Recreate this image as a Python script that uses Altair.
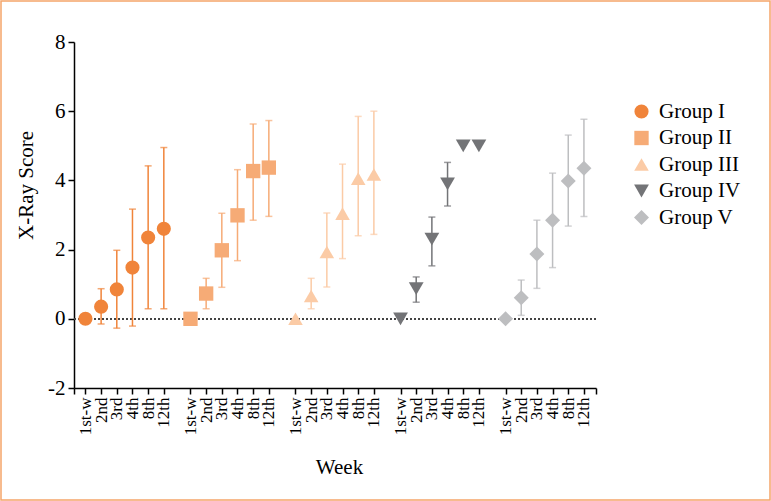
import altair as alt
import pandas as pd

weeks = ["1st-w", "2nd", "3rd", "4th", "8th", "12th"]
groups = ["Group I", "Group II", "Group III", "Group IV", "Group V"]

mean_g1 = [0, 0.35, 0.85, 1.48, 2.35, 2.60]
lo_g1 = [0, -0.15, -0.27, -0.21, 0.29, 0.29]
hi_g1 = [0, 0.87, 1.98, 3.17, 4.42, 4.95]

mean_g2 = [0, 0.73, 1.98, 2.99, 4.27, 4.37]
lo_g2 = [0, 0.29, 0.91, 1.68, 2.85, 2.96]
hi_g2 = [0, 1.17, 3.05, 4.31, 5.63, 5.73]

mean_g3 = [0, 0.66, 1.93, 3.04, 4.05, 4.17]
lo_g3 = [0, 0.29, 0.92, 1.74, 2.40, 2.44]
hi_g3 = [0, 1.17, 3.06, 4.47, 5.85, 6.00]

mean_g4 = [0, 0.87, 2.30, 3.90, 5.0, 5.0]
lo_g4 = [0, 0.48, 1.53, 3.26, 5.0, 5.0]
hi_g4 = [0, 1.21, 2.94, 4.52, 5.0, 5.0]

mean_g5 = [0, 0.61, 1.87, 2.85, 3.98, 4.35]
lo_g5 = [0, 0.10, 0.88, 1.48, 2.68, 2.96]
hi_g5 = [0, 1.12, 2.85, 4.21, 5.31, 5.77]

colors = ["#F0843A", "#F6AB76", "#FBCBA6", "#737477", "#BDBEC0"]
shapes = ["circle", "square", "triangle-up", "triangle-down", "diamond"]
sizes = [200, 225, 215, 215, 160]

means = [mean_g1, mean_g2, mean_g3, mean_g4, mean_g5]
lows = [lo_g1, lo_g2, lo_g3, lo_g4, lo_g5]
highs = [hi_g1, hi_g2, hi_g3, hi_g4, hi_g5]

GROUP_STEP = 6.7
rows = []
for g, name in enumerate(groups):
    for i, w in enumerate(weeks):
        rows.append(dict(group=name, week=w, pos=g * GROUP_STEP + i,
                         mean=means[g][i], lo=lows[g][i], hi=highs[g][i]))
df = pd.DataFrame(rows)

x_min = -0.73
x_max = (len(groups) - 1) * GROUP_STEP + len(weeks) - 1 + 0.77
tick_vals = [x_min] + [float(v) for v in df["pos"]] + [x_max]

week_arr = "[" + ",".join("'" + w + "'" for w in weeks) + "]"
label_expr = (f"datum.value < -0.5 || datum.value > {x_max - 0.5} ? '' : "
              f"{week_arr}[round(datum.value % {GROUP_STEP})]")

FONT = "Liberation Serif"

x_axis = alt.Axis(values=tick_vals, labelExpr=label_expr, labelAngle=270,
                  labelAlign="right", labelBaseline="middle", labelFontSize=17,
                  labelFont=FONT, labelColor="black", labelPadding=3,
                  labelFlush=False, labelOverlap=False, labelBound=False,
                  grid=False, tickSize=6, tickWidth=1.5, tickColor="black",
                  domainColor="black", domainWidth=1.5,
                  title="Week", titleFont=FONT, titleFontSize=21,
                  titleFontWeight="normal", titleColor="black",
                  titleX=265, titleY=79, titleBaseline="middle", titleAlign="center")
y_axis = alt.Axis(values=[-2, 0, 2, 4, 6, 8], grid=False, tickSize=6, tickWidth=1.5,
                  tickColor="black", domainColor="black", domainWidth=1.5,
                  labelExpr="datum.value < 0 ? '-' + abs(datum.value) : '' + datum.value",
                  labelFontSize=21, labelFont=FONT, labelColor="black", labelPadding=3,
                  title="X-Ray Score", titleFont=FONT, titleFontSize=21,
                  titleFontWeight="normal", titleColor="black",
                  titleX=-48, titleY=143, titleAngle=270, titleAlign="center",
                  titleBaseline="middle")

xscale = alt.Scale(domain=[x_min, x_max], nice=False, zero=False)
yscale = alt.Scale(domain=[-2, 8], nice=False, zero=False)

legend = alt.Legend(title=None, orient="none", legendX=557, legendY=59,
                    labelFontSize=21, labelFont=FONT, labelColor="black",
                    symbolSize=200, symbolStrokeWidth=0, rowPadding=4.5,
                    labelOffset=7, padding=0, symbolOpacity=1)

color_scale = alt.Scale(domain=groups, range=colors)
shape_scale = alt.Scale(domain=groups, range=shapes)

base = alt.Chart(df)

zero_line = base.mark_rule(color="#444444", strokeDash=[2, 2], strokeWidth=1.2).encode(
    y=alt.datum(0, scale=yscale)
)

errbars = base.transform_filter("datum.hi > datum.lo").mark_errorbar(
    ticks=True, size=7, thickness=1.5
).encode(
    x=alt.X("pos:Q", scale=xscale, axis=x_axis),
    y=alt.Y("lo:Q", scale=yscale, axis=y_axis),
    y2="hi:Q",
    color=alt.Color("group:N", scale=color_scale, legend=legend),
)

points = base.mark_point(filled=True, opacity=1, strokeWidth=0).encode(
    x=alt.X("pos:Q", scale=xscale, axis=x_axis),
    y=alt.Y("mean:Q", scale=yscale, axis=y_axis),
    color=alt.Color("group:N", scale=color_scale, legend=legend),
    shape=alt.Shape("group:N", scale=shape_scale, legend=legend),
    size=alt.Size("group:N", scale=alt.Scale(domain=groups, range=sizes), legend=None),
)

frame = alt.Chart(pd.DataFrame({"f": [0]})).mark_rect(
    fillOpacity=0, stroke="#F5A56A", strokeWidth=1.5
).encode(
    x=alt.value(-73), x2=alt.value(696), y=alt.value(-41), y2=alt.value(458)
)

chart = alt.layer(zero_line, errbars, points, frame).properties(
    width=522, height=346,
    padding={"left": 74, "top": 42, "right": 175, "bottom": 113},
    autosize="none",
    background="white",
).configure_view(strokeWidth=0)

chart.save("out.html", embed_options={"renderer": "svg", "actions": False})
